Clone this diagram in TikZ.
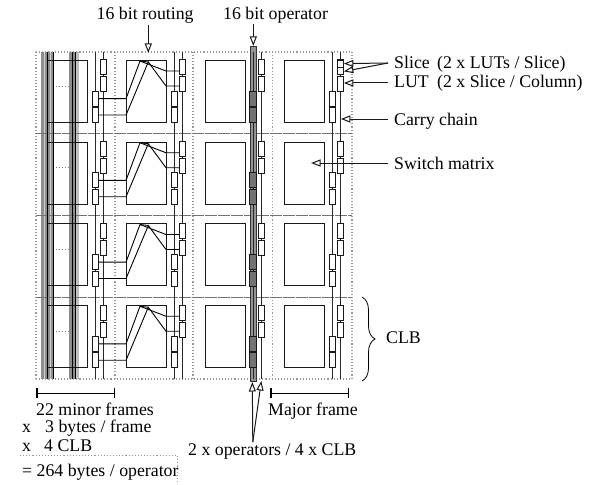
\documentclass[tikz,border=0pt]{standalone}
\usepackage{fontspec}
\setmainfont{Liberation Serif}
\usetikzlibrary{arrows.meta,decorations.pathreplacing}
\tikzset{
  txt/.style={anchor=base west,inner sep=0pt,font=\fontsize{17.8}{20}\selectfont},
  frameline/.style={draw=black!40,line width=1.1pt,dotted},
  rowline/.style={draw=black!55,line width=.8pt,dash pattern=on 12pt off 1pt},
  clbbox/.style={draw=black!90,line width=1pt,minimum width=39.5pt,minimum height=62pt,inner sep=0pt},
  lutbox/.style={draw=black!90,fill=white,line width=1pt,minimum width=6pt,inner sep=0pt},
  lutA/.style={lutbox,minimum height=15pt},
  opbox/.style={fill=black!55},
  rail/.style={draw=black!85,line width=1pt},
  wire/.style={draw=black,line width=.9pt},
  callout/.style={draw=black!90,line width=1pt,-{Triangle[open,length=9.5pt,width=7pt]}},
  span/.style={draw=black,line width=1.5pt,{Bar[width=10pt]}-{Bar[width=10pt]}}
}
\begin{document}
\begin{tikzpicture}[x=1pt,y=-1pt]
\useasboundingbox (0,0) rectangle (601,484);
% minor-frame stripes
\fill[black!45] (41,52) rectangle (53.7,379);
\fill[black!45] (69,52) rectangle (75.5,379);
\fill[black!25] (75.5,52) rectangle (79,379);
\foreach \bx in {44.6,50.2,72.4}{
  \fill[black!18] (\bx-.7,52) rectangle (\bx+.7,379);
}
% frame
\foreach \fx in {36,115,193,272.7,352}{
  \draw[frameline] (\fx,52) -- (\fx,379);
}
\draw[frameline] (36,52) -- (352,52);
\draw[frameline] (36,379) -- (352,379);
\foreach \r in {1,2,3}{
  \pgfmathsetmacro\ry{52+\r*81.75}
  \draw[rowline] (36,\ry) -- (352,\ry);
}
% operator bar
\fill[black!42] (250,46) rectangle (256.7,381.7);
\draw[black!80,line width=.8pt] (250,46) rectangle (256.7,381.7);
% rails
\foreach \c in {0,1,2,3}{
  \pgfmathsetmacro\lx{95.3+\c*79}
  \pgfmathsetmacro\rx{103.3+\c*79}
  \draw[rail] (\lx,52) -- (\lx,379);
  \draw[rail] (\rx,52) -- (\rx,379);
}
% cells
\foreach \r in {0,1,2,3}{
  \pgfmathsetmacro\ry{52+\r*81.75}
  \foreach \c in {0,1,2,3}{
    \pgfmathsetmacro\sx{67.3+\c*79}
    \pgfmathsetmacro\lx{95.3+\c*79}
    \pgfmathsetmacro\rx{103.3+\c*79}
    \node[clbbox] (s-\c-\r) at (\sx,\ry+39.4) {};
    \node[lutA] (a-\c-\r) at (\rx,\ry+15.5) {};
    \node[lutA] (b-\c-\r) at (\rx,\ry+32.3) {};
    \ifnum\c=2
      \node[lutA,opbox,minimum width=6.7pt] (d-\c-\r) at (\lx,\ry+46.6) {};
      \node[lutA,opbox,minimum width=6.7pt] (e-\c-\r) at (\lx,\ry+63) {};
    \else
      \node[lutA] (d-\c-\r) at (\lx,\ry+46.6) {};
      \node[lutA] (e-\c-\r) at (\lx,\ry+63) {};
    \fi
  }
  \draw[black!50,line width=.9pt,dotted] (53,\ry+34) -- (69,\ry+34);
  % stripes' black lines over the first column box
  \foreach \bx in {47.2,52.8,72.3,75.2}{
    \draw[black,line width=.5pt] (\bx,\ry) -- (\bx,\ry+81.75);
  }
  % routing wires
  \coordinate (p-\r) at (140,\ry+9);
  \coordinate (q-\r) at (148.3,\ry+10);
  \coordinate (u-\r) at (166,\ry+19);
  \coordinate (v-\r) at (166,\ry+34);
  \draw[wire] (d-0-\r.east) -- (s-1-\r.west |- d-0-\r.east) -- (p-\r) -- (u-\r) -- (a-1-\r.west |- u-\r);
  \draw[wire] (e-0-\r.east) -- (s-1-\r.west |- e-0-\r.east) -- (q-\r) -- (v-\r) -- (b-1-\r.west |- v-\r);
  \draw[wire] (p-\r) -- (q-\r);
}
% slice detail
\node[lutbox,minimum height=7pt,line width=1.1pt] (sl1) at (340.3,63.6) {};
\node[lutbox,minimum height=7pt,line width=1.1pt] (sl2) at (340.3,71.4) {};
% labels
\node[txt] (routing) at (96.5,20) {16 bit routing};
\node[txt] (operator) at (223,20) {16 bit operator};
\node[txt] (slice) at (394,69) {\makebox[43pt][l]{Slice}(2 x LUTs / Slice)};
\node[txt] (lut) at (394,88) {\makebox[43pt][l]{LUT}(2 x Slice / Column)};
\node[txt] (carry) at (394,125) {Carry chain};
\node[txt] (switch) at (394,169) {Switch matrix};
\node[txt] (clb) at (386,343) {CLB};
\node[txt] (minor) at (36,415.7) {22 minor frames};
\node[txt] (x1) at (22,432.7) {x};
\node[txt] (bytes) at (45,432.7) {3 bytes / frame};
\node[txt] (x2) at (22,451.7) {x};
\node[txt] (fourclb) at (44,451.7) {4 CLB};
\node[txt] (total) at (22,476.7) {= 264 bytes / operator};
\node[txt] (twoops) at (188,455) {2 x operators / 4 x CLB};
\node[txt] (major) at (268,415.7) {Major frame};
% callouts
\coordinate (rt) at (148.3,25);
\coordinate (rh) at (148.3,53);
\draw[callout] (rt) -- (rh);
\coordinate (ot) at (253.3,24);
\coordinate (oh) at (253.3,46);
\draw[callout] (ot) -- (oh);
\coordinate (ss) at (388,63);
\draw[callout] (ss) -- (sl1.east);
\draw[callout] (ss) -- (sl2.east);
\coordinate (ls) at (388,83);
\draw[callout] (ls) -- (a-3-0.east |- ls);
\coordinate (cs) at (388,119);
\coordinate (ch) at (340.8,119);
\draw[callout] (cs) -- (ch);
\coordinate (ms) at (388,163);
\coordinate (mh) at (311,163);
\draw[callout] (ms) -- (mh);
\coordinate (os) at (252.8,442);
\coordinate (o1) at (252.3,382);
\coordinate (o2) at (261.3,381);
\draw[callout] (os) -- (o1);
\draw[callout] (os) -- (o2);
% spans and brace
\coordinate (m1) at (36,393.3);
\coordinate (m2) at (115,393.3);
\draw[span] (m1) -- (m2);
\coordinate (j1) at (270,393.3);
\coordinate (j2) at (349,393.3);
\draw[span] (j1) -- (j2);
\coordinate (br1) at (362,297);
\coordinate (br2) at (362,381);
\draw[black,line width=.8pt,decorate,decoration={brace,amplitude=13pt}] (br1) -- (br2);
% result box
\draw[frameline,line width=.9pt] (20,455) -- (177,455) -- (177,484);
\end{tikzpicture}
\end{document}
